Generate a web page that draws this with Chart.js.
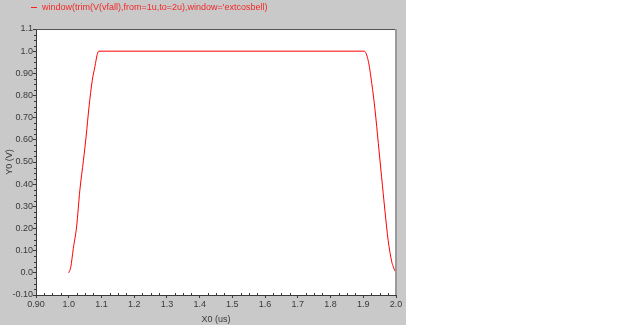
<!DOCTYPE html>
<html>
<head>
<meta charset="utf-8">
<script src="https://cdn.jsdelivr.net/npm/chart.js@4/dist/chart.umd.min.js"></script>
<style>
  html, body { margin: 0; padding: 0; background: #fff; }
  #wrap { width: 619px; height: 325px; }
</style>
</head>
<body>
<div id="wrap"><canvas id="myChart" width="619" height="325"></canvas></div>
<script>
// values
const xValues = [1.0, 1.006, 1.014, 1.024, 1.034, 1.045, 1.053, 1.062, 1.072, 1.080, 1.087, 1.092,
                 1.903, 1.915, 1.926, 1.936, 1.946, 1.956, 1.966, 1.976, 1.987, 1.992, 1.997, 2.0];
const yValues = [0.0, 0.024, 0.11, 0.207, 0.373, 0.508, 0.613, 0.749, 0.869, 0.93, 0.985, 1.0,
                 1.0, 0.958, 0.854, 0.734, 0.584, 0.433, 0.283, 0.147, 0.05, 0.027, 0.008, 0.003];
const xTickLabels = ['0.90', '1.0', '1.1', '1.2', '1.3', '1.4', '1.5', '1.6', '1.7', '1.8', '1.9', '2.0'];
const yTickLabels = ['-0.10', '0.0', '0.10', '0.20', '0.30', '0.40', '0.50', '0.60', '0.70', '0.80', '0.90', '1.0', '1.1'];
const seriesName = "window(trim(V(vfall),from=1u,to=2u),window='extcosbell)";

const points = xValues.map((x, i) => ({ x: x, y: yValues[i] }));
const fontName = "'Liberation Sans', Arial, sans-serif";
const axisColor = '#3a3a3a';

// gray panel, white plot area, frame, minor ticks and legend
const decor = {
  id: 'decor',
  beforeDraw(chart) {
    const ctx = chart.ctx;
    const a = chart.chartArea;
    ctx.save();
    ctx.fillStyle = '#c9c9c9';
    ctx.fillRect(0, 0, 406, chart.height);
    ctx.fillStyle = '#ffffff';
    ctx.fillRect(a.left, a.top, a.right - a.left, a.bottom - a.top);
    ctx.restore();
  },
  afterDraw(chart) {
    const ctx = chart.ctx;
    const a = chart.chartArea;
    const xs = chart.scales.x;
    const ys = chart.scales.y;
    ctx.save();
    // frame
    ctx.strokeStyle = '#555555';
    ctx.lineWidth = 1;
    ctx.beginPath();
    ctx.moveTo(a.left, a.top + 0.5);
    ctx.lineTo(a.right, a.top + 0.5);
    ctx.stroke();
    ctx.strokeStyle = '#9a9a9a';
    ctx.lineWidth = 2;
    ctx.beginPath();
    ctx.moveTo(a.right, a.top);
    ctx.lineTo(a.right, a.bottom);
    ctx.stroke();
    // minor ticks
    ctx.strokeStyle = axisColor;
    ctx.lineWidth = 1;
    ctx.beginPath();
    for (let i = 0; i < 48; i++) {
      if (i % 4 === 0) continue;
      const py = Math.round(ys.getPixelForValue(-0.1 + i * 0.025)) + 0.5;
      ctx.moveTo(a.left - 2, py);
      ctx.lineTo(a.left, py);
    }
    for (let i = 0; i < 44; i++) {
      if (i % 4 === 0) continue;
      const px = Math.round(xs.getPixelForValue(0.9 + i * 0.025)) + 0.5;
      ctx.moveTo(px, a.bottom);
      ctx.lineTo(px, a.bottom - 2);
    }
    ctx.stroke();
    // legend
    ctx.strokeStyle = '#ff2020';
    ctx.beginPath();
    ctx.moveTo(31, 7.5);
    ctx.lineTo(37, 7.5);
    ctx.stroke();
    ctx.fillStyle = '#f02828';
    ctx.font = '9px ' + fontName;
    ctx.textBaseline = 'middle';
    ctx.fillText(seriesName, 42, 8);
    ctx.restore();
  }
};

const myChart = new Chart(document.getElementById('myChart'), {
  type: 'line',
  data: {
    datasets: [{
      label: seriesName,
      data: points,
      borderColor: '#ff0000',
      borderWidth: 1,
      pointRadius: 0,
      cubicInterpolationMode: 'monotone',
      fill: false
    }]
  },
  options: {
    responsive: false,
    animation: false,
    layout: { padding: { left: 0, top: 29, right: 223, bottom: 0 } },
    plugins: {
      legend: { display: false },
      tooltip: { enabled: false }
    },
    scales: {
      x: {
        type: 'linear',
        min: 0.9,
        max: 2.0,
        afterFit(scale) { scale.height = 30; },
        afterBuildTicks(scale) {
          scale.ticks = xTickLabels.map((t, i) => ({ value: 0.9 + i * 0.1 }));
        },
        ticks: {
          color: axisColor,
          font: { family: fontName, size: 9 },
          padding: 1,
          maxRotation: 0,
          autoSkip: false,
          callback: (v, i) => xTickLabels[i]
        },
        grid: { drawOnChartArea: false, tickLength: 3, color: axisColor },
        border: { color: axisColor },
        title: {
          display: true,
          text: 'X0 (us)',
          color: axisColor,
          font: { family: fontName, size: 9 },
          padding: { top: 4, bottom: 0 }
        }
      },
      y: {
        min: -0.1,
        max: 1.1,
        afterFit(scale) { scale.width = 36; },
        afterBuildTicks(scale) {
          scale.ticks = yTickLabels.map((t, i) => ({ value: -0.1 + i * 0.1 }));
        },
        ticks: {
          color: axisColor,
          font: { family: fontName, size: 9 },
          padding: 0,
          autoSkip: false,
          callback: (v, i) => yTickLabels[i]
        },
        grid: { drawOnChartArea: false, tickLength: 3, color: axisColor },
        border: { color: axisColor },
        title: {
          display: true,
          text: 'Y0 (V)',
          color: axisColor,
          font: { family: fontName, size: 9 },
          padding: { top: 4, bottom: 0 }
        }
      }
    }
  },
  plugins: [decor]
});
</script>
</body>
</html>
